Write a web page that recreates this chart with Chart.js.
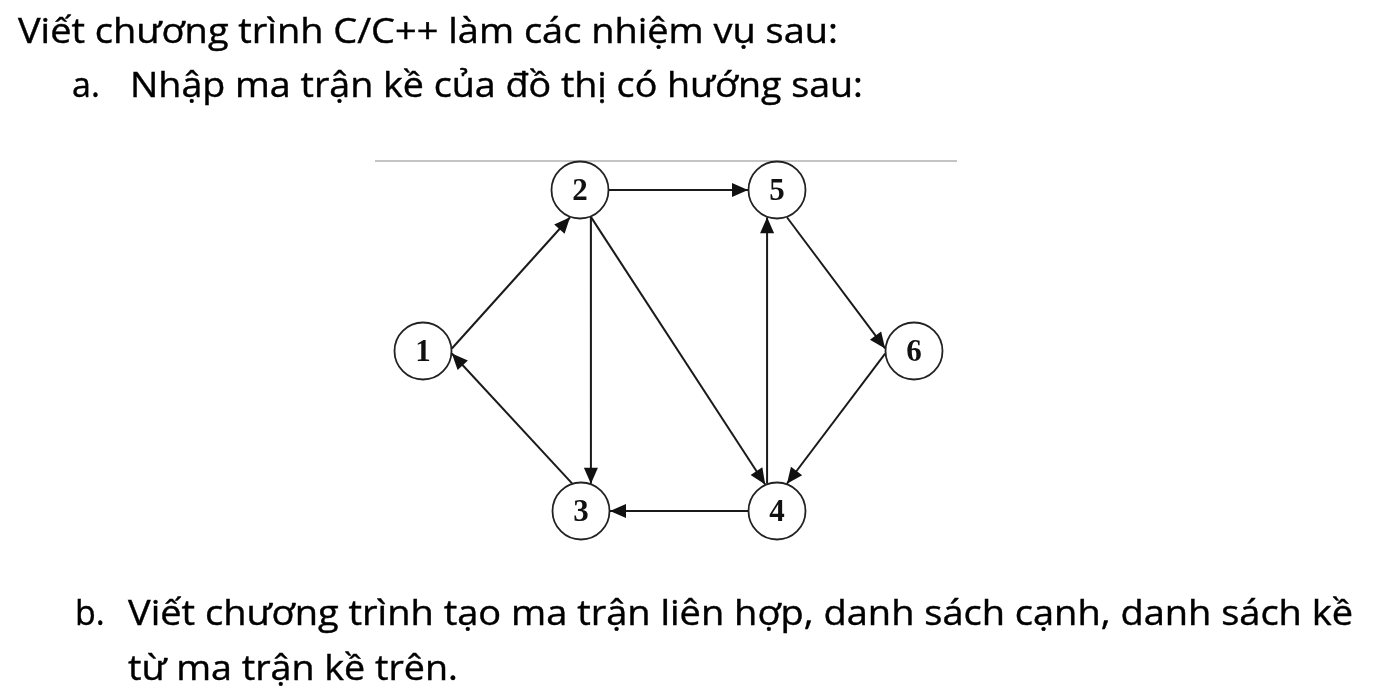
<!DOCTYPE html>
<html lang="vi">
<head>
<meta charset="utf-8">
<title>Đồ thị có hướng</title>
<script src="https://cdn.jsdelivr.net/npm/chart.js@4.4.1/dist/chart.umd.min.js"></script>
<style>
  html, body { margin: 0; padding: 0; background: #fff; overflow: hidden; }
  #wrap { position: relative; width: 1386px; height: 695px; }
  #graph { position: absolute; left: 0; top: 0; }
  .line {
    position: absolute; white-space: nowrap; color: #000;
    font-family: "Open Sans", "Noto Sans", sans-serif; font-size: 34px; line-height: 1;
    -webkit-text-stroke: 0.4px #000;
    transform-origin: 0 0;
  }
</style>
</head>
<body>
<div id="wrap">
  <canvas id="graph" width="1386" height="695"></canvas>
</div>
<script>
// đỉnh của đồ thị (toạ độ theo trục của hình)
const nodeIds = ['1', '2', '3', '4', '5', '6'];
const nodeX = [423, 580, 581, 777, 777, 914];
const nodeY = [351, 190, 511, 511, 190, 351];
const nodeR = 29;

// cung: đỉnh đầu, đỉnh cuối, góc ra / góc vào trên vòng tròn (độ)
const edgeFrom = ['1', '2', '2', '2', '3', '4', '4', '5', '6'];
const edgeTo   = ['2', '5', '3', '4', '1', '3', '5', '6', '4'];
const edgeOutAngle = [-5, 0, 68, 68, -108, 180, -110, 70, 175];
const edgeInAngle  = [110, 180, -70, -114, 5, 0, 110, -175, -70];

// đường kẻ ngang phía trên hình
const rulerX = [375, 957];
const rulerY = 161;

// các dòng chữ (right = null: giữ nguyên độ rộng)
const textLines = [
  { text: 'Viết chương trình C/C++ làm các nhiệm vụ sau:', left: 18, right: 838, base: 43 },
  { text: 'a.', left: 72, right: null, base: 97 },
  { text: 'Nhập ma trận kề của đồ thị có hướng sau:', left: 130, right: 863, base: 97 },
  { text: 'b.', left: 75, right: null, base: 625 },
  { text: 'Viết chương trình tạo ma trận liên hợp, danh sách cạnh, danh sách kề', left: 128, right: 1353, base: 625 },
  { text: 'từ ma trận kề trên.', left: 128, right: 458, base: 680 }
];

const wrap = document.getElementById('wrap');
textLines.forEach(l => {
  const div = document.createElement('div');
  div.className = 'line';
  div.textContent = l.text;
  const mark = document.createElement('span');
  mark.style.display = 'inline-block';
  mark.style.height = '0';
  mark.style.width = '0';
  div.appendChild(mark);
  div.style.left = l.left + 'px';
  wrap.appendChild(div);
  const w = div.getBoundingClientRect().width;
  const baseOff = mark.offsetTop;
  div.style.top = (l.base - baseOff) + 'px';
  if (l.right) div.style.transform = 'scaleX(' + ((l.right - l.left) / w) + ')';
});

function portPoint(id, deg) {
  const i = nodeIds.indexOf(id);
  const a = deg * Math.PI / 180;
  return { x: nodeX[i] + nodeR * Math.cos(a), y: nodeY[i] + nodeR * Math.sin(a) };
}

const edgeDatasets = edgeFrom.map((f, i) => ({
  type: 'line',
  label: f + '→' + edgeTo[i],
  data: [portPoint(f, edgeOutAngle[i]), portPoint(edgeTo[i], edgeInAngle[i])],
  borderColor: '#1a1a1a',
  borderWidth: 2,
  pointRadius: 0,
  showLine: true,
  isEdge: true,
  order: 2,
  clip: false
}));

const rulerDataset = {
  type: 'line',
  label: 'ruler',
  data: rulerX.map(x => ({ x: x, y: rulerY })),
  borderColor: '#c4c4c4',
  borderWidth: 2,
  pointRadius: 0,
  order: 3,
  clip: false
};

const nodeDataset = {
  type: 'scatter',
  label: 'nodes',
  data: nodeIds.map((id, i) => ({ x: nodeX[i], y: nodeY[i] })),
  pointRadius: nodeR - 0.5,
  pointHoverRadius: nodeR - 0.5,
  backgroundColor: '#fff',
  borderColor: '#222',
  borderWidth: 1.8,
  isNode: true,
  order: 1,
  clip: false
};

// mũi tên ở cuối mỗi cung + nhãn đỉnh
const graphPlugin = {
  id: 'graphPlugin',
  afterDatasetsDraw(chart) {
    const ctx = chart.ctx;
    chart.data.datasets.forEach((ds, di) => {
      const meta = chart.getDatasetMeta(di);
      if (ds.isEdge) {
        const p0 = meta.data[0], p1 = meta.data[1];
        const ang = Math.atan2(p1.y - p0.y, p1.x - p0.x);
        const len = 16, half = 7;
        ctx.save();
        ctx.fillStyle = '#111';
        ctx.beginPath();
        ctx.moveTo(p1.x, p1.y);
        ctx.lineTo(p1.x - len * Math.cos(ang) + half * Math.sin(ang), p1.y - len * Math.sin(ang) - half * Math.cos(ang));
        ctx.lineTo(p1.x - len * Math.cos(ang) - half * Math.sin(ang), p1.y - len * Math.sin(ang) + half * Math.cos(ang));
        ctx.closePath();
        ctx.fill();
        ctx.restore();
      }
      if (ds.isNode) {
        ctx.save();
        ctx.fillStyle = '#111';
        ctx.font = 'bold 31px "Liberation Serif", "Times New Roman", serif';
        ctx.textAlign = 'center';
        ctx.textBaseline = 'alphabetic';
        meta.data.forEach((pt, i) => {
          ctx.fillText(nodeIds[i], pt.x, pt.y + 10);
        });
        ctx.restore();
      }
    });
  }
};

const graphChart = new Chart(document.getElementById('graph'), {
  type: 'scatter',
  data: { datasets: [...edgeDatasets, rulerDataset, nodeDataset] },
  options: {
    responsive: false,
    animation: false,
    events: [],
    layout: { padding: 0, autoPadding: false },
    scales: {
      x: { type: 'linear', min: 0, max: 1386, display: false },
      y: { type: 'linear', min: 0, max: 695, reverse: true, display: false }
    },
    plugins: {
      legend: { display: false },
      tooltip: { enabled: false }
    }
  },
  plugins: [graphPlugin]
});
</script>
</body>
</html>
